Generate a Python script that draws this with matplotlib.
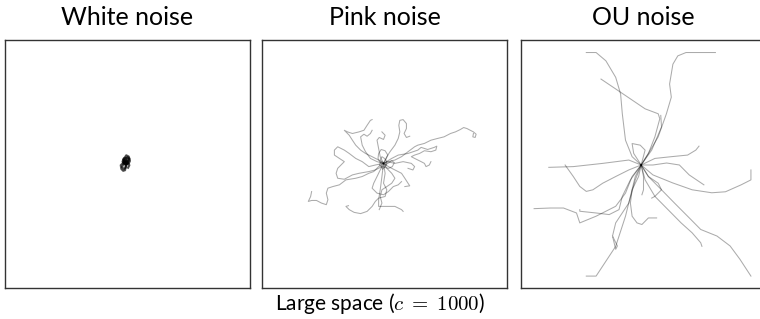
import matplotlib
matplotlib.use("Agg")
import matplotlib.pyplot as plt
import numpy as np

plt.rcParams['font.family'] = ['Lato', 'DejaVu Sans']
plt.rcParams['mathtext.fontset'] = 'cm'

titles = ['White noise', 'Pink noise', 'OU noise']
caption = r'Large space ($c \;=\; 1000$)'
c = 1000

# trajectories, (x, y) in space units, axes span -c..c
white_paths = [
    [(-20, 16), (-5, 35), (10, 25), (0, 5), (-25, 0), (-40, 20), (-30, 45), (-10, 50), (5, 40)],
    [(-20, 16), (-35, -5), (-45, -25), (-30, -40), (-15, -30), (-10, -5), (5, 10), (15, -10), (5, -30)],
    [(-20, 16), (0, 20), (15, 40), (10, 60), (-10, 70), (-20, 55), (-35, 35), (-25, 15)],
    [(-20, 16), (-40, 5), (-55, -10), (-50, -40), (-35, -55), (-20, -50), (-15, -20), (-5, 0)],
    [(-20, 16), (-10, 0), (10, 5), (20, 25), (15, 45), (0, 55), (-15, 40), (-30, 25), (-20, 10), (-5, 20)],
    [(-20, 16), (-30, 30), (-10, 30), (-15, 5), (-30, 10), (-25, 25), (-5, 15), (-20, -5), (-35, 15)],
]

pink_paths = [
    [(-8, 5), (32, 19), (85, 32), (139, 59), (192, 99), (246, 139), (272, 152), (326, 166), (379, 192),
     (433, 206), (486, 219), (539, 246), (579, 259), (619, 278), (646, 294), (673, 286), (700, 272),
     (726, 259), (748, 240), (740, 214), (721, 219), (726, 246)],
    [(-8, 5), (59, 45), (112, 72), (192, 85), (272, 112), (299, 134), (352, 117), (406, 134), (427, 144),
     (419, 112), (379, 99), (326, 107), (286, 85), (246, 72), (219, 59), (246, 45), (299, 19), (326, 5),
     (339, -21), (366, -8), (379, 19)],
    [(-8, 5), (-48, -21), (-88, -61), (-128, -75), (-182, -101), (-235, -115), (-315, -128), (-368, -168),
     (-422, -182), (-462, -195), (-475, -235), (-462, -288), (-475, -328), (-515, -315), (-555, -294),
     (-595, -294), (-622, -302), (-603, -262), (-595, -222)],
    [(-8, 5), (5, -75), (-8, -155), (19, -208), (5, -262), (-48, -275), (-75, -302), (-101, -342),
     (-142, -382), (-195, -400), (-248, -390), (-288, -368), (-315, -342), (-294, -336)],
    [(-8, 5), (-21, -101), (-35, -208), (-48, -288), (-48, -342), (19, -342), (85, -342), (139, -368), (152, -382)],
    [(-8, 5), (-48, 32), (-101, 59), (-155, 85), (-195, 112), (-235, 152), (-262, 192), (-288, 232),
     (-328, 272), (-302, 259), (-262, 246), (-208, 259), (-168, 272), (-142, 312), (-115, 352), (-101, 358)],
    [(-8, 5), (-75, -8), (-128, -21), (-182, 19), (-235, 45), (-288, 85), (-328, 112), (-382, 139),
     (-409, 112), (-409, 72), (-368, 45), (-328, 19), (-355, -8), (-382, -35), (-395, -75), (-382, -115),
     (-328, -123), (-262, -88), (-208, -75), (-128, -61), (-75, -48), (-21, -21)],
    [(-8, 5), (19, 59), (45, 99), (85, 152), (112, 206), (125, 259), (117, 312), (125, 352), (152, 358),
     (179, 326), (179, 286), (160, 246), (179, 214), (206, 224)],
    [(-8, 5), (-35, 59), (-48, 125), (-61, 192), (-43, 214), (-8, 198), (5, 232), (-21, 259)],
    [(-8, 5), (-61, 19), (-115, 45), (-155, 99), (-182, 152), (-195, 219), (-168, 240), (-142, 224),
     (-115, 246), (-101, 272)],
    [(-8, 5), (32, -21), (85, -48), (139, -75), (166, -115), (192, -155), (206, -176), (166, -182)],
    [(-8, 5), (-35, -48), (-61, -101), (-88, -155), (-101, -195), (-61, -235), (-8, -248), (32, -222),
     (72, -182), (112, -168), (139, -142)],
    [(-8, 5), (19, -35), (59, -75), (85, -115), (59, -155), (19, -182), (-21, -208), (-35, -262),
     (-21, -315), (-43, -368)],
    [(-8, 5), (-27, 19), (-43, -8), (-21, -27), (11, -16), (19, 19), (0, 45), (-21, 59), (-35, 32),
     (-8, 5), (19, 5), (5, -21), (-16, -43), (-27, -8)],
    [(-8, 5), (11, 37), (27, 72), (5, 107), (-27, 117), (-48, 85), (-53, 45), (-35, 11), (5, -8),
     (37, 11), (59, 27), (80, 11), (64, -21), (32, -35), (0, -27)],
    [(-8, 5), (19, 19), (85, 5), (152, 19), (219, 5), (246, -21), (232, -48), (192, -35)],
]

ou_paths = [
    [(-19, -8), (-93, 59), (-147, 192), (-173, 405), (-187, 565), (-227, 699), (-307, 832), (-387, 899), (-467, 899)],
    [(-19, -8), (40, 85), (93, 219), (133, 365), (120, 405), (13, 445), (-147, 552), (-347, 685)],
    [(-19, -8), (40, 85), (120, 219), (187, 405), (227, 539), (213, 645), (240, 805), (280, 872), (347, 899), (587, 899)],
    [(-19, -8), (67, 112), (147, 299), (141, 392)],
    [(-19, -8), (93, 45), (227, 59), (360, 72), (427, 112), (453, 144)],
    [(-19, -8), (77, -88), (237, -152), (397, -208), (557, -232), (669, -224), (797, -168), (877, -128), (877, -48)],
    [(-19, -8), (77, -8), (189, 8), (293, -8), (373, -88), (493, -168)],
    [(-19, -8), (-120, 32), (-333, 5), (-573, -21), (-773, -27)],
    [(-19, -8), (-120, -48), (-227, -101), (-333, -155), (-413, -208), (-467, -221), (-520, -181), (-573, -101), (-640, -8)],
    [(-19, -8), (-93, -101), (-147, -235), (-227, -341), (-387, -421), (-520, -475), (-547, -395), (-653, -355), (-760, -355), (-893, -360)],
    [(-19, -8), (-107, -128), (-173, -261), (-200, -368), (-280, -408), (-387, -395), (-520, -381), (-520, -368)],
    [(-19, -8), (-67, -101), (-107, -261), (-147, -421), (-227, -664), (-387, -904), (-467, -904)],
    [(-19, -8), (-40, -101), (-93, -208), (-107, -315), (-93, -421), (-53, -475), (-13, -488), (40, -435), (107, -435)],
    [(-19, -8), (-67, -128), (-120, -315), (-227, -475), (-253, -581), (-213, -661), (-227, -688), (-253, -581)],
    [(-19, -8), (40, -101), (147, -208), (253, -315), (387, -448), (467, -528), (600, -581), (707, -661), (787, -768), (877, -904)],
    [(-19, -8), (13, -128), (93, -261), (200, -368), (307, -475), (397, -555), (467, -635), (477, -664)],
    [(-19, -8), (0, -101), (0, -208), (-13, -248)],
    [(-19, -8), (40, -101), (120, -155), (147, -208), (93, -261), (67, -275)],
    [(-19, -8), (-80, 85), (-93, 165), (-27, 152), (13, 112), (-19, -8)],
]

fig = plt.figure(figsize=(7.6, 3.19), dpi=100)
W, H = 760, 319
lefts = [5, 262, 521]
axes = [fig.add_axes([l / W, 31 / H, 245 / W, 248 / H]) for l in lefts]

for ax, title, paths in zip(axes, titles, [white_paths, pink_paths, ou_paths]):
    for p in paths:
        p = np.array(p)
        ax.plot(p[:, 0], p[:, 1], color='k', alpha=0.33, lw=0.75)
    ax.set_xlim(-c, c)
    ax.set_ylim(-c, c)
    ax.set_xticks([])
    ax.set_yticks([])
    for s in ax.spines.values():
        s.set_color('#333333')
        s.set_linewidth(1.0)
    ax.set_title(title, fontsize=18, pad=11)

# white noise blob is very dense in the middle
for p in white_paths:
    p = np.array(p)
    axes[0].plot(p[:, 0], p[:, 1], color='k', alpha=0.6, lw=1.6)

fig.text(380 / W, 1 - 303 / H, caption, ha='center', va='center', fontsize=15)

plt.savefig('out.png', dpi=100)
